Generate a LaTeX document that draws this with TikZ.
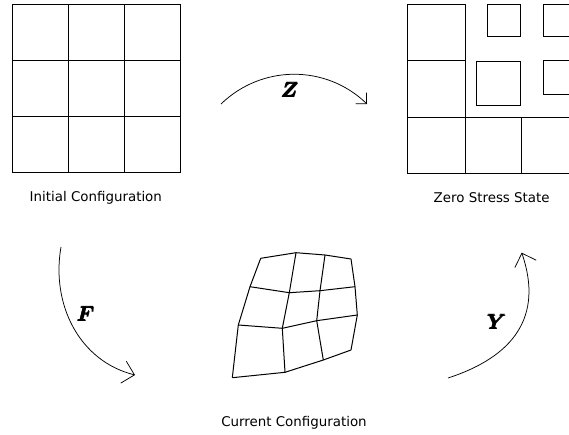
\documentclass[tikz,border=0pt]{standalone}
\usepackage{fontspec}
\usepackage{amsmath}
\newfontfamily\labelfont{DejaVu Sans}
\usetikzlibrary{arrows.meta}

\begin{document}
\begin{tikzpicture}[x=1pt,y=1pt,
  cell/.style={draw,line width=1pt},
  caption/.style={font=\labelfont\fontsize{13.4}{16}\selectfont,anchor=base},
  mapname/.style={font=\fontsize{21}{24}\selectfont},
  maparrow/.style={line width=0.75pt,-{Straight Barb[angle=90:#1]}},
  maparrow/.default=16pt]
  \useasboundingbox (0,0) rectangle (569,434);
  \clip (0,0) rectangle (569,434);

  % initial configuration
  \foreach \i in {0,1,2}
    \foreach \j in {0,1,2}
      \draw[cell] ({12+56.33*\i},{261+56*\j}) rectangle +(56.33,56);
  \node[caption] (init) at (95.8,233) {Initial Configuration};

  % zero stress state
  \draw[cell] (407,373.7) rectangle (465,429);
  \draw[cell] (407,316.3) rectangle (465,373.7);
  \foreach \x/\w in {407/58,465/56,521/56}
    \draw[cell] (\x,260.7) rectangle +(\w,55.6);
  \draw[cell] (487,397) rectangle (520,429.3);
  \draw[cell] (476,328.7) rectangle (520,372.3);
  \draw[cell] (543,397) rectangle (576,429.3);
  \draw[cell] (543,339.7) rectangle (576,373);
  \node[caption] (zero) at (491.7,231) {Zero Stress State};

  % current configuration
  \foreach \x/\y [count=\c] in {260.7/175.7,296/181.3,325/179,351/175}
    \coordinate (a\c) at (\x,\y);
  \foreach \x/\y [count=\c] in {250/147.3,289.3/141.3,320/143.3,355/147.3}
    \coordinate (b\c) at (\x,\y);
  \foreach \x/\y [count=\c] in {238.3/109,282.3/105.7,316.7/113.3,357.3/119}
    \coordinate (c\c) at (\x,\y);
  \foreach \x/\y [count=\c] in {232.3/56.3,285/61.7,323.3/74,351/84}
    \coordinate (d\c) at (\x,\y);
  \foreach \r in {a,b,c,d}
    \draw[cell] (\r1) -- (\r2) -- (\r3) -- (\r4);
  \foreach \c in {1,...,4}
    \draw[cell] (a\c) -- (b\c) -- (c\c) -- (d\c);
  \node[caption] (curr) at (294,7.3) {Current Configuration};

  % maps
  \coordinate (z0) at (221,330);
  \coordinate (z1) at (367,330);
  \draw[maparrow=11pt] (z0) to[bend left=44] (z1);
  \node[mapname] (zlab) at (290,344) {$\pmb{\boldsymbol{Z}}$};

  \coordinate (f0) at (61,187);
  \coordinate (f1) at (135,59);
  \draw[maparrow] (f0) to[out=-100,in=166] (f1);
  \node[mapname] (flab) at (86,120) {$\pmb{\boldsymbol{F}}$};

  \coordinate (y0) at (448,56);
  \coordinate (y1) at (521.7,181.3);
  \draw[maparrow] (y0) to[out=18,in=-71,looseness=1.2] (y1);
  \node[mapname] (ylab) at (497,112) {$\pmb{\boldsymbol{Y}}$};
\end{tikzpicture}
\end{document}
